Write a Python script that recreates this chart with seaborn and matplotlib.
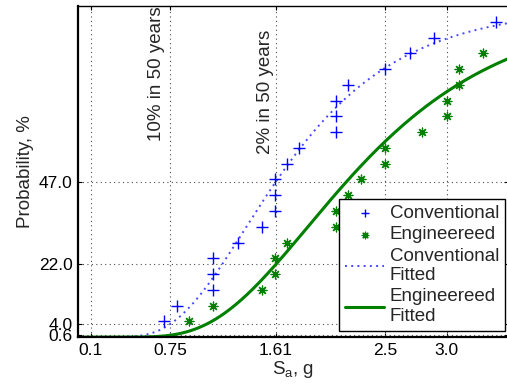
import numpy as np
import pandas as pd
import matplotlib
matplotlib.use("Agg")
import matplotlib.pyplot as plt
import seaborn as sns
from math import erf, sqrt, log

# ---- data ----
conv_sa = [0.7, 0.8, 1.1, 1.1, 1.1, 1.3, 1.5, 1.6, 1.6, 1.6,
           1.7, 1.8, 2.1, 2.1, 2.1, 2.2, 2.5, 2.7, 2.9, 3.4]
conv_p = [4.76, 9.52, 14.29, 19.05, 23.81, 28.57, 33.33, 38.10, 42.86, 47.62,
          52.38, 57.14, 61.90, 66.67, 71.43, 76.19, 80.95, 85.71, 90.48, 95.24]
eng_sa = [0.9, 1.1, 1.5, 1.6, 1.6, 1.7, 2.1, 2.1, 2.2, 2.3,
          2.5, 2.5, 2.8, 3.0, 3.0, 3.1, 3.1, 3.3]
eng_p = [4.76, 9.52, 14.29, 19.05, 23.81, 28.57, 33.33, 38.10, 42.86, 47.62,
         52.38, 57.14, 61.90, 66.67, 71.43, 76.19, 80.95, 85.71]
# fitted lognormal fragility parameters (median, dispersion)
conv_fit = (1.666, 0.456)
eng_fit = (2.259, 0.439)

xticks = [0.1, 0.75, 1.61, 2.5, 3.0]
xticklabels = ["0.1", "0.75", "1.61", "2.5", "3.0"]
yticks = [0.6, 4.0, 22.0, 47.0]
yticklabels = ["0.6", "4.0", "22.0", "47.0"]

sns.set_style("ticks")
plt.rcParams['font.family'] = ['Liberation Sans', 'DejaVu Sans']
plt.rcParams['mathtext.fontset'] = 'custom'
plt.rcParams['mathtext.rm'] = 'Liberation Sans'
plt.rcParams['mathtext.it'] = 'Liberation Sans:italic'

fig = plt.figure(figsize=(5.07, 3.89), dpi=100)
ax = fig.add_axes([0.1546, 0.1332, 0.8473, 0.8514])

def logn_cdf(x, med, beta):
    return [100 * 0.5 * (1 + erf(log(v / med) / (beta * sqrt(2)))) for v in x]

xs = np.linspace(0.05, 3.5, 300)
df_cf = pd.DataFrame({"x": xs, "y": logn_cdf(xs, *conv_fit)})
df_ef = pd.DataFrame({"x": xs, "y": logn_cdf(xs, *eng_fit)})

blue = "#0000ff"
green = "#008000"

sns.scatterplot(x=conv_sa, y=conv_p, marker="+", s=65, color=blue,
                linewidth=1.0, ax=ax, label="Conventional", zorder=3)
sns.scatterplot(x=eng_sa, y=eng_p, marker=(8, 2, 0), s=40, color=green,
                edgecolor=green, linewidth=0.9, ax=ax, label="Engineereed", zorder=3)
sns.lineplot(data=df_cf, x="x", y="y", color="#4848ff", linestyle=(0, (1, 2.2)),
             linewidth=1.4, ax=ax, label="Conventional\nFitted", zorder=2)
sns.lineplot(data=df_ef, x="x", y="y", color=green, linestyle="-",
             linewidth=2.2, ax=ax, label="Engineereed\nFitted", zorder=2)

ax.set_xlim(0, 3.5)
ax.set_ylim(0, 100)
ax.set_xticks(xticks)
ax.set_xticklabels(xticklabels)
ax.set_yticks(yticks)
ax.set_yticklabels(yticklabels)
ax.tick_params(direction="in", length=3, labelsize=12.5, colors="black",
               top=True, right=True, pad=4)
ax.grid(True, linestyle=(0, (1, 3)), color="0.3", linewidth=0.8)
for s in ax.spines.values():
    s.set_color("black")
    s.set_linewidth(1.0)
ax.spines["left"].set_linewidth(1.6)
ax.spines["bottom"].set_linewidth(1.6)

ax.set_xlabel(r"S$_\mathrm{a}$, g", fontsize=13.5, labelpad=1)
ax.set_ylabel("Probability, %", fontsize=13.5, labelpad=4)

ax.text(0.64, 79.5, "10% in 50 years", rotation=90, ha="center", va="center",
        fontsize=13.5)
ax.text(1.526, 74.2, "2% in 50 years", rotation=90, ha="center", va="center",
        fontsize=13.5)

leg = ax.legend(loc="lower right", bbox_to_anchor=(0.993, 0.02),
                borderaxespad=0, fontsize=13.5, handlelength=2.1,
                fancybox=False, framealpha=1, edgecolor="black",
                labelspacing=0.22, borderpad=0.3, handletextpad=0.3,
                markerscale=0.75)
leg.get_frame().set_linewidth(1.0)
for t in leg.get_texts():
    t.set_linespacing(1.2)

fig.savefig("out.png", dpi=100)
